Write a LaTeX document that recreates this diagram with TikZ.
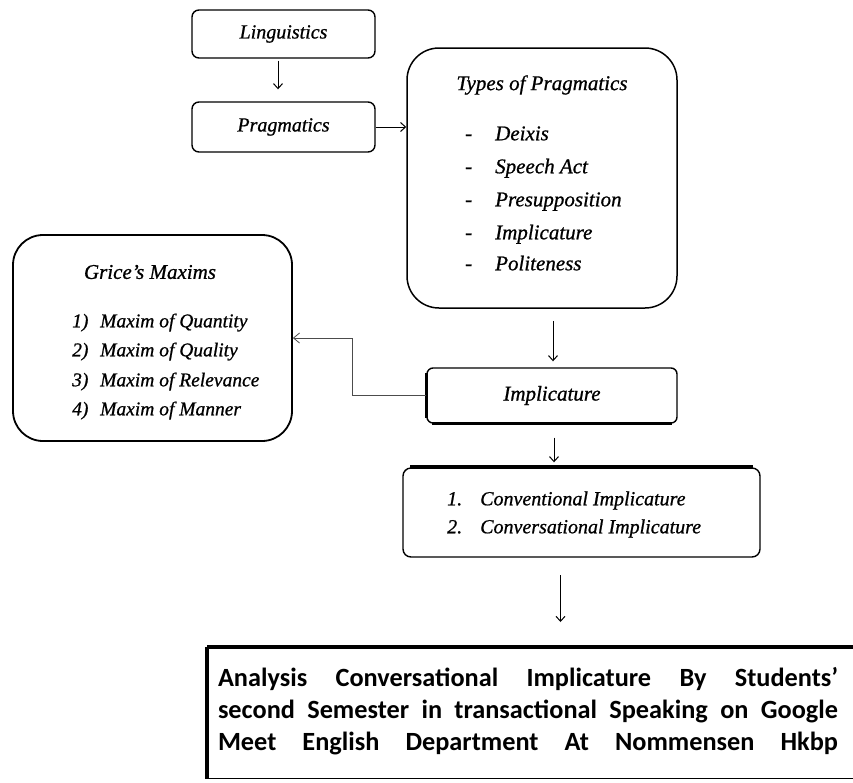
\documentclass[tikz,border=0pt]{standalone}
\usepackage{fontspec}
\setmainfont{Liberation Serif}
\newfontfamily\heavyserif{Liberation Serif}[FakeBold=0.8]
\newfontfamily\calib{Carlito}
\usetikzlibrary{arrows.meta}
\begin{document}
\begin{tikzpicture}[x=1pt,y=-1pt,
  box/.style={draw, line width=1.4pt, rounded corners=7pt, inner sep=0pt},
  bigbox/.style={draw, line width=1.5pt, rounded corners=32pt, inner sep=0pt},
  itA/.style={font=\heavyserif\itshape\fontsize{20}{24}\selectfont, inner sep=0pt},
  itB/.style={font=\heavyserif\itshape\fontsize{21}{25}\selectfont, inner sep=0pt},
  itC/.style={font=\heavyserif\itshape\fontsize{19.5}{23}\selectfont, inner sep=0pt},
  arr/.style={-{Straight Barb[length=5pt,width=9pt]}, line width=1pt},
  arrthin/.style={-{Straight Barb[length=6pt,width=10pt]}, line width=0.8pt, draw=black!70},
]
\useasboundingbox (0,0) rectangle (853,782);
\clip (0,0) rectangle (853,782);

% top boxes
\node[box, itA, minimum width=183pt, minimum height=48pt] (ling) at (283.5,34) {Linguistics};
\node[box, itA, minimum width=183pt, minimum height=50pt] (prag) at (283.5,127) {Pragmatics};

% types of pragmatics
\node[bigbox, minimum width=270pt, minimum height=260pt] (types) at (542,178) {};
\node[itB] (typest) at (542,85) {Types of Pragmatics};
\node[itB, anchor=mid west] (td1) at (465,138) {-};
\node[itB, anchor=mid west] (ti1) at (495,138) {Deixis};
\node[itB, anchor=mid west] (td2) at (465,171) {-};
\node[itB, anchor=mid west] (ti2) at (495,171) {Speech Act};
\node[itB, anchor=mid west] (td3) at (465,204) {-};
\node[itB, anchor=mid west] (ti3) at (495,204) {Presupposition};
\node[itB, anchor=mid west] (td4) at (465,237) {-};
\node[itB, anchor=mid west] (ti4) at (495,237) {Implicature};
\node[itB, anchor=mid west] (td5) at (465,268) {-};
\node[itB, anchor=mid west] (ti5) at (495,268) {Politeness};

% grice's maxims
\node[bigbox, line width=1.8pt, rounded corners=30pt, minimum width=279pt, minimum height=206pt] (grice) at (152.5,338) {};
\node[itB] (gricet) at (150,272) {Grice’s Maxims};
\node[itC, anchor=mid west] (gn1) at (72,325) {1)};
\node[itC, anchor=mid west] (gi1) at (100,325) {Maxim of Quantity};
\node[itC, anchor=mid west] (gn2) at (72,354) {2)};
\node[itC, anchor=mid west] (gi2) at (100,354) {Maxim of Quality};
\node[itC, anchor=mid west] (gn3) at (72,384) {3)};
\node[itC, anchor=mid west] (gi3) at (100,384) {Maxim of Relevance};
\node[itC, anchor=mid west] (gn4) at (72,413) {4)};
\node[itC, anchor=mid west] (gi4) at (100,413) {Maxim of Manner};

% implicature
\node[box, itB, rounded corners=6pt, minimum width=250pt, minimum height=55pt] (imp) at (552,395.5) {Implicature};
\draw[line width=3pt] ([yshift=-6pt]imp.north west) -- ([yshift=6pt]imp.south west);
\draw[line width=3pt] ([xshift=6pt]imp.south west) -- ([xshift=-6pt]imp.south east);

% conventional / conversational
\node[box, rounded corners=8pt, minimum width=357pt, minimum height=89pt] (conv) at (581.5,512.5) {};
\draw[line width=4pt] ([xshift=8pt]conv.north west) -- ([xshift=-8pt]conv.north east);
\node[itA, anchor=mid west] (cn1) at (447,503) {1.};
\node[itA, anchor=mid west] (ci1) at (480,503) {Conventional Implicature};
\node[itA, anchor=mid west] (cn2) at (447,531) {2.};
\node[itA, anchor=mid west] (ci2) at (480,531) {Conversational Implicature};

% goal box
\node[draw, line width=1pt, anchor=north west, minimum width=700pt, minimum height=131pt, inner sep=0pt] (goal) at (207,647) {};
\draw[line width=4pt] (goal.north west) -- (goal.north east);
\draw[line width=4pt] (goal.north west) -- (goal.south west);
\node[inner sep=0pt, align=left, font=\calib\bfseries\fontsize{26.3}{32}\selectfont] (goalt) at (528,711)
  {\makebox[620pt][s]{Analysis Conversational Implicature By Students’}\\
   \makebox[620pt][s]{second Semester in transactional Speaking on Google}\\
   \makebox[620pt][s]{Meet English Department At Nommensen Hkbp}};

% connectors
\draw[arr] ([xshift=-5.5pt,yshift=-2pt]ling.south) -- ([xshift=-5.5pt,yshift=12pt]prag.north);
\draw[arr] (prag.east) -- (prag.east -| types.west);
\draw[arr] ([xshift=11pt,yshift=-12pt]types.south) -- ([xshift=1pt,yshift=6pt]imp.north);
\draw[arr] ([xshift=2pt,yshift=-14pt]imp.south) -- ([xshift=-27.5pt,yshift=5pt]conv.north);
\draw[arr] ([xshift=3pt,yshift=72pt]goal.north) -- ([xshift=3pt,yshift=25pt]goal.north);
\draw[arrthin] (imp.west) -- ([xshift=-74pt]imp.west) |- (grice.east);
\end{tikzpicture}
\end{document}
